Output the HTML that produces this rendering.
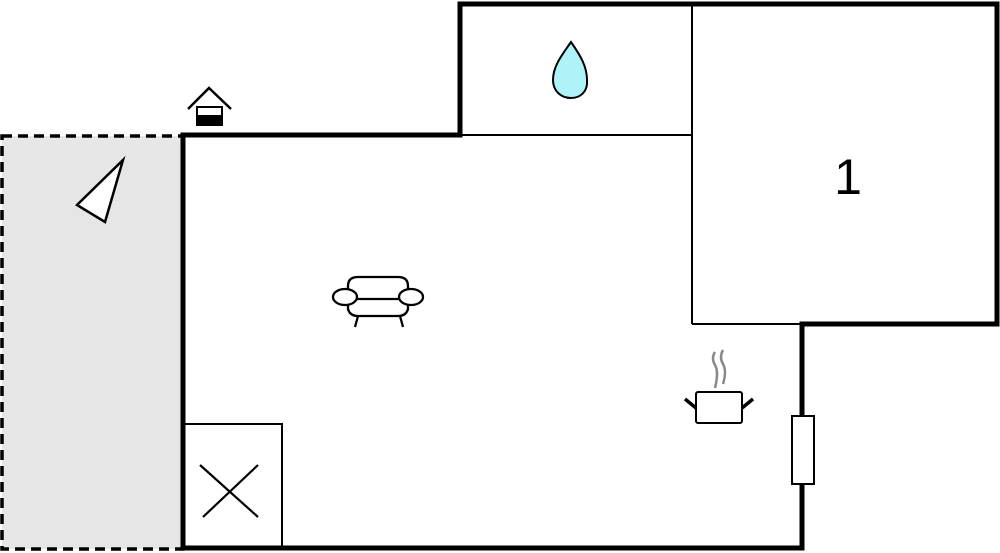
<!DOCTYPE html>
<html><head><meta charset="utf-8"><style>html,body{margin:0;padding:0;background:#fff;}svg{display:block}</style></head>
<body>
<svg width="1000" height="553" viewBox="0 0 1000 553" xmlns="http://www.w3.org/2000/svg">
<rect x="2" y="136" width="181" height="413" fill="#e6e6e6" stroke="#000" stroke-width="3.5" stroke-dasharray="10,6"/>
<g stroke="#000" stroke-width="2" fill="none">
<line x1="460" y1="135" x2="692" y2="135"/>
<line x1="692" y1="4" x2="692" y2="324"/>
<line x1="692" y1="324" x2="802" y2="324"/>
<rect x="184" y="424" width="98" height="124"/>
<line x1="200" y1="465" x2="258" y2="517" stroke-width="2.2"/>
<line x1="258" y1="465" x2="203" y2="517" stroke-width="2.2"/>
</g>
<path d="M183 549 L183 135 L460 135 L460 4 L997 4 L997 324 L802 324 L802 548 L183 548" fill="none" stroke="#000" stroke-width="5" stroke-linejoin="miter"/>
<rect x="792" y="416" width="22" height="68" fill="#fff" stroke="#000" stroke-width="2"/>
<polygon points="77,205 123,160 105,222" fill="#fff" stroke="#000" stroke-width="2.5"/>
<polyline points="188,109 209,88 231,109" fill="none" stroke="#000" stroke-width="2.5"/>
<rect x="197" y="107" width="25" height="18" fill="#fff" stroke="#000" stroke-width="2"/>
<rect x="197" y="115" width="25" height="11" fill="#000"/>
<path d="M571 42 C562 55 553 66 553 80 C553 91 561 98 571 98 C581 98 588 91 587 80 C587 66 580 55 571 42 Z" fill="#aef3f8" stroke="#000" stroke-width="2"/>
<text x="848" y="194" font-family="Liberation Sans, sans-serif" font-size="50" text-anchor="middle">1</text>
<g fill="#fff" stroke="#000" stroke-width="2.3">
<path d="M348 300 L348 286 Q348 277 358 277 L398 277 Q408 277 408 286 L408 300"/>
<path d="M348 300 L348 309 Q350 316 358 316 L398 316 Q406 316 408 309 L408 300"/>
<line x1="358" y1="316" x2="355" y2="327"/>
<line x1="400" y1="316" x2="403" y2="327"/>
<line x1="355" y1="299" x2="402" y2="299"/>
<ellipse cx="345" cy="297" rx="12" ry="8"/>
<ellipse cx="411" cy="297" rx="12" ry="8"/>
</g>
<g stroke="#888" stroke-width="2.5" fill="none">
<path d="M715 352 Q711 358 715 365 Q719 372 715 388"/>
<path d="M723 350 Q719 357 723 364 Q727 371 723 384"/>
</g>
<rect x="696" y="392" width="46" height="31" rx="2" fill="#fff" stroke="#000" stroke-width="2"/>
<line x1="685" y1="399" x2="696" y2="408" stroke="#000" stroke-width="3.5"/>
<line x1="753" y1="399" x2="742" y2="408" stroke="#000" stroke-width="3.5"/>
</svg>
</body></html>
